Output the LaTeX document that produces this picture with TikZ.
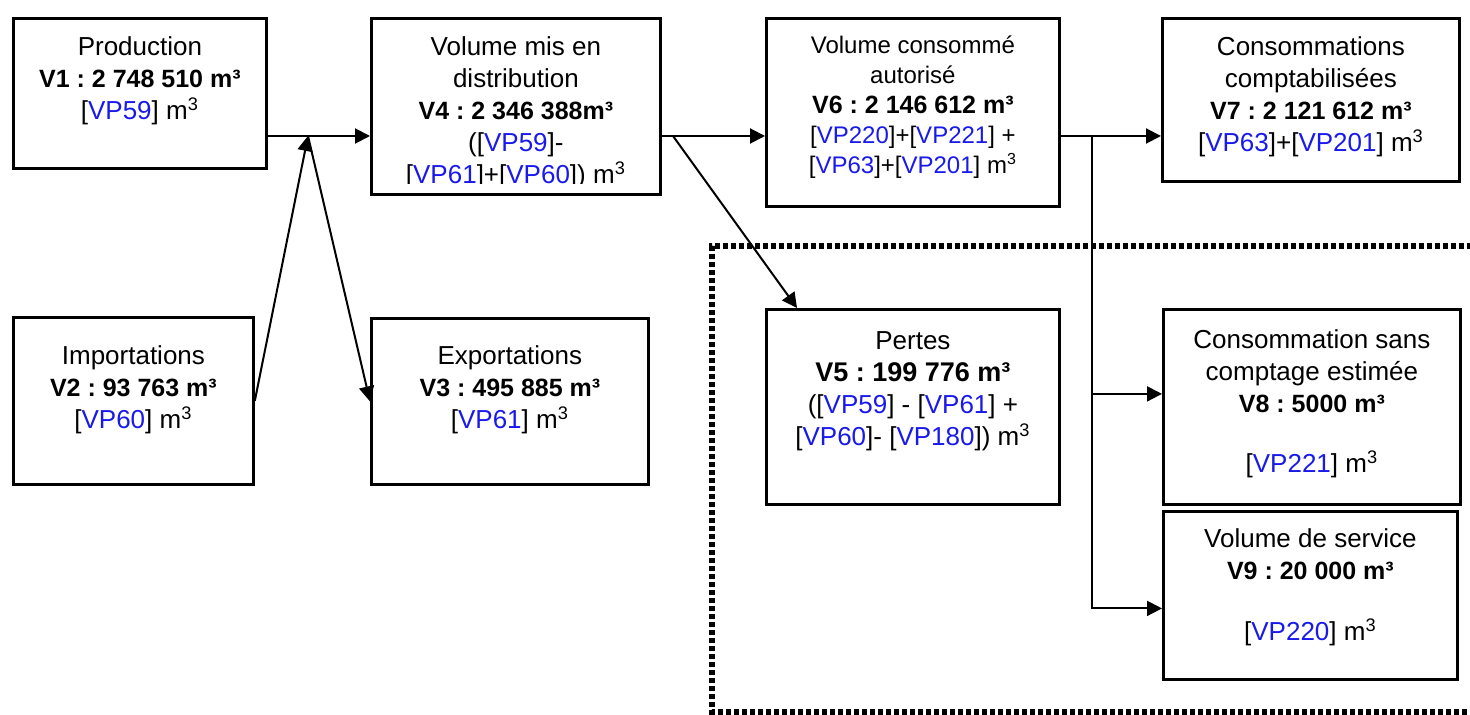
\documentclass[tikz,border=0pt]{standalone}
\usepackage{fontspec}
\setmainfont{Liberation Sans}
\usetikzlibrary{
    arrows.meta,
    positioning,
}
\frenchspacing
\definecolor{vpblue}{RGB}{25,25,235}
\newcommand{\vp}[1]{[\textcolor{vpblue}{VP#1}]}
\newcommand{\mcube}{m\textsuperscript{3}}
\newcommand{\vol}[1]{{\fontsize{12.5}{16}\selectfont\bfseries #1}}

\begin{document}
\begin{tikzpicture}[
        x=0.5pt, y=-0.5pt,
        box/.style={rectangle, draw=black, fill=white, line width=1.4pt, inner sep=0pt, anchor=north west},
        txt/.style={align=center, inner sep=0pt, font=\fontsize{13}{16}\selectfont},
        txtsmall/.style={txt, font=\fontsize{12}{15}\selectfont},
        flow/.style={line width=1pt, -{Triangle[length=7.5pt, width=7.5pt]}},
        zone/.style={line width=2.6pt, dash pattern=on 2.6pt off 1.4pt},
        ]
        \useasboundingbox (0,0) rectangle (1470,715);
        % network area (losses and unmetered uses)
        \draw[zone] (1480,246) -- (712,246) -- (712,712) -- (1480,712);
        % boxes
        \node[box, minimum width=126.5pt, minimum height=75pt]   (prod)    at (12,17)   {};
        \node[box, minimum width=120pt,   minimum height=83.5pt] (imp)     at (12,316)  {};
        \node[box, minimum width=144.5pt, minimum height=88pt]   (dist)    at (370,17)  {};
        \node[box, minimum width=138.5pt, minimum height=83pt]   (exp)     at (370,317) {};
        \node[box, minimum width=146.5pt, minimum height=94pt]   (auth)    at (765,17)  {};
        \node[box, minimum width=146.5pt, minimum height=97.5pt] (loss)    at (765,308) {};
        \node[box, minimum width=148.5pt, minimum height=81.5pt] (metered) at (1161,17) {};
        \node[box, minimum width=148.5pt, minimum height=97.5pt] (unmet)   at (1162,308) {};
        \node[box, minimum width=147pt,   minimum height=84pt]   (serv)    at (1162,510) {};
        % texts
        \node[txt, below=9.5pt of prod.north] (prodtxt)
            {Production\\ \vol{V1 : 2 748 510 m³}\\ \vp{59} \mcube};
        \node[txt, below=14.5pt of imp.north] (imptxt)
            {Importations\\ \vol{V2 : 93 763 m³}\\ \vp{60} \mcube};
        \begin{scope}
            \clip (dist.north west) rectangle ([yshift=6pt]dist.south east);
            \node[txt, below=9.5pt of dist.north] (disttxt)
                {Volume mis en\\ distribution\\ \vol{V4 : 2 346 388m³}\\ (\vp{59}-\\ \vp{61}+\vp{60}) \mcube};
        \end{scope}
        \node[txt, below=14pt of exp.north] (exptxt)
            {Exportations\\ \vol{V3 : 495 885 m³}\\ \vp{61} \mcube};
        \node[txtsmall, below=9pt of auth.north] (authtxt)
            {Volume consommé\\ autorisé\\ \vol{V6 : 2 146 612 m³}\\ \vp{220}+\vp{221} +\\ \vp{63}+\vp{201} \mcube};
        \node[txt, below=11.5pt of loss.north] (losstxt)
            {Pertes\\ {\fontsize{13.5}{16}\selectfont\bfseries V5 : 199 776 m³}\\ (\vp{59} - \vp{61} +\\ \vp{60}- \vp{180}) \mcube};
        \node[txt, below=9.5pt of metered.north] (meteredtxt)
            {Consommations\\ comptabilisées\\ \vol{V7 : 2 121 612 m³}\\ \vp{63}+\vp{201} \mcube};
        \node[txt, below=10.5pt of unmet.north] (unmettxt)
            {Consommation sans\\ comptage estimée\\ \vol{V8 : 5000 m³}\\[14pt] \vp{221} \mcube};
        \node[txt, below=9pt of serv.north] (servtxt)
            {Volume de service\\ \vol{V9 : 20 000 m³}\\[14.5pt] \vp{220} \mcube};
        % flows
        \coordinate (split) at (308,136);
        \coordinate (fork)  at (673,136);
        \coordinate (tap)   at (1092,136);
        \draw[flow] (prod.east |- split) -- (dist.west |- split);
        \draw[flow] (imp.east) -- (split);
        \draw[flow] (split) -- (exp.west);
        \draw[flow] (dist.east |- fork) -- (auth.west |- fork);
        \draw[flow] (fork) -- ([xshift=16pt]loss.north west);
        \draw[flow] (auth.east |- tap) -- (metered.west |- tap);
        \draw[flow] (tap) |- ([yshift=6.5pt]unmet.west);
        \draw[flow] (tap) |- ([yshift=-6.5pt]serv.west);
\end{tikzpicture}
\end{document}
